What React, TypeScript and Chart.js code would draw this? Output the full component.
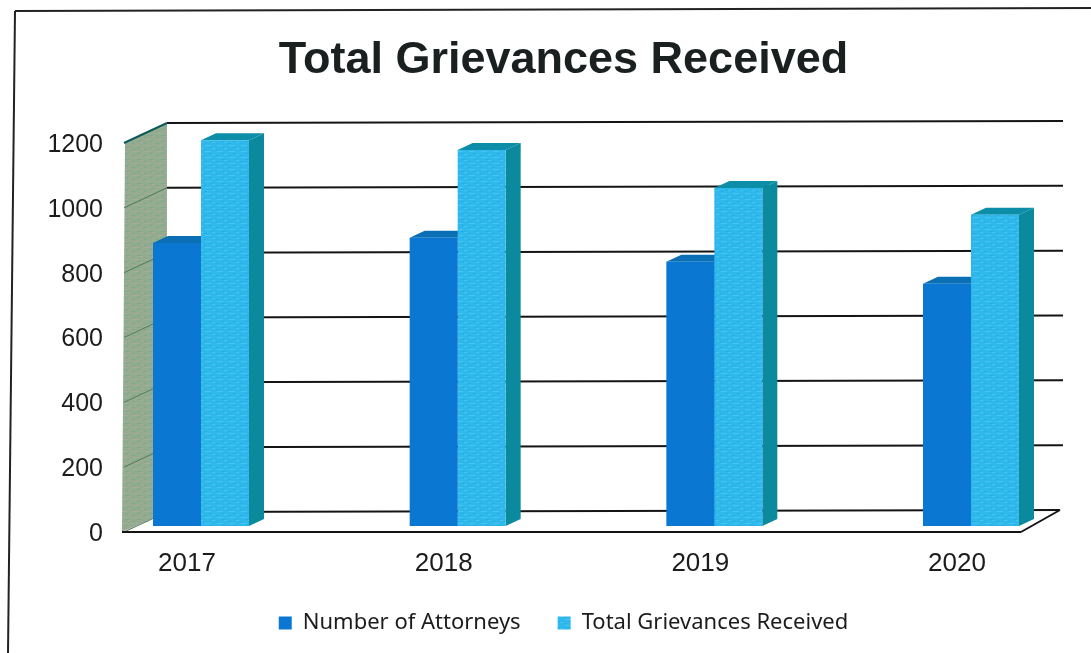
import React, { useEffect, useRef } from "react";
import { Chart, registerables } from "chart.js";

Chart.register(...registerables);

const years = ["2017", "2018", "2019", "2020"];
const attorneys = [873, 889, 815, 747];
const grievances = [1190, 1160, 1043, 960];

const INK = "#1c1c1c";
const BLUE = "#0a78d2";
const SIDE = "#0a8a9c";
const BLUE_TOP = "#0a6fb4";
const LIGHT_TOP = "#0c8ea8";
const DEPTH_X = 15;
const DEPTH_Y = 7;

function makePattern(base: string, streak: string, alt: string) {
  const c = document.createElement("canvas");
  c.width = 12;
  c.height = 6;
  const g = c.getContext("2d")!;
  g.fillStyle = base;
  g.fillRect(0, 0, 12, 6);
  g.fillStyle = streak;
  g.fillRect(1, 1, 6, 1);
  g.fillRect(8, 4, 3, 1);
  g.fillStyle = alt;
  g.fillRect(5, 3, 4, 1);
  g.fillRect(0, 5, 3, 1);
  return g.createPattern(c, "repeat")!;
}

function poly(ctx: CanvasRenderingContext2D, pts: number[][], fill: string | CanvasPattern) {
  ctx.beginPath();
  pts.forEach((p, i) => (i ? ctx.lineTo(p[0], p[1]) : ctx.moveTo(p[0], p[1])));
  ctx.closePath();
  ctx.fillStyle = fill;
  ctx.fill();
}

function line(ctx: CanvasRenderingContext2D, x0: number, y0: number, x1: number, y1: number, color: string, w: number) {
  ctx.beginPath();
  ctx.moveTo(x0, y0);
  ctx.lineTo(x1, y1);
  ctx.strokeStyle = color;
  ctx.lineWidth = w;
  ctx.stroke();
}

const scenePlugin = {
  id: "scene3d",
  beforeDatasetsDraw(chart: any) {
    const { ctx, scales } = chart;
    const y = scales.y;
    ctx.save();

    // page frame of the scanned figure
    line(ctx, 15, 11, 1091, 8, "#222", 2);
    line(ctx, 15, 11, 8, 653, "#222", 2);

    // back wall on the left
    const y0 = y.getPixelForValue(0);
    const yTop = y.getPixelForValue(1200);
    const wall = makePattern("#93ab8e", "#a8ab98", "#7fa98e");
    poly(ctx, [[125, yTop + 6], [167, yTop - 14], [167, y0 - 14], [122, y0 + 6]], wall);

    // gridlines on the back plane and their run across the side wall
    for (const t of y.ticks) {
      const p = y.getPixelForValue(t.value);
      const end = t.value === 0 ? 1060 : 1063;
      line(ctx, 167, p - 14, end, p - 16, "#141414", 2);
      line(ctx, 124, p + 6, 167, p - 14, t.value === 1200 ? "#0b5a5c" : "#4f7a5c", t.value === 1200 ? 2 : 1);
    }

    // floor
    line(ctx, 122, y0 + 6, 1021, y0 + 6, "#141414", 2);
    line(ctx, 1021, y0 + 6, 1060, y0 - 16, "#141414", 2);

    // bar depth, taken from the bar elements
    chart.data.datasets.forEach((_d: any, di: number) => {
      const top = di === 0 ? BLUE_TOP : LIGHT_TOP;
      chart.getDatasetMeta(di).data.forEach((b: any) => {
        const l = b.x - b.width / 2;
        const r = b.x + b.width / 2;
        poly(ctx, [[r, b.y], [r + DEPTH_X, b.y - DEPTH_Y], [r + DEPTH_X, b.base - DEPTH_Y], [r, b.base]], SIDE);
        poly(ctx, [[l, b.y], [l + DEPTH_X, b.y - DEPTH_Y], [r + DEPTH_X, b.y - DEPTH_Y], [r, b.y]], top);
      });
    });
    ctx.restore();
  },
};

export default function App() {
  const ref = useRef<HTMLCanvasElement>(null);

  useEffect(() => {
    const light = makePattern("#2fb8ec", "#48c4f0", "#27b0e6");
    const chart = new Chart(ref.current!, {
      type: "bar",
      data: {
        labels: years,
        datasets: [
          { label: "Number of Attorneys", data: attorneys, backgroundColor: BLUE, clip: false } as any,
          { label: "Total Grievances Received", data: grievances, backgroundColor: light, clip: false } as any,
        ],
      },
      plugins: [scenePlugin],
      options: {
        responsive: false,
        animation: false,
        layout: { padding: { left: 40, right: 4, top: 0, bottom: 9 } },
        datasets: { bar: { barPercentage: 1, categoryPercentage: 0.374 } },
        plugins: {
          tooltip: { enabled: false },
          title: {
            display: true,
            text: "Total Grievances Received",
            color: "#1a2020",
            font: { family: "'Liberation Sans'", size: 45, weight: "bold" },
            padding: { top: 34, bottom: 49 },
          },
          legend: {
            position: "bottom",
            labels: {
              boxWidth: 13,
              boxHeight: 13,
              padding: 37,
              color: INK,
              font: { family: "'Noto Sans'", size: 22 },
            },
          },
        },
        scales: {
          x: {
            offset: false,
            grid: { display: false, drawTicks: false },
            border: { display: false },
            ticks: {
              color: INK,
              font: { family: "'Liberation Sans'", size: 26 },
              padding: 22,
              labelOffset: -14,
              autoSkip: false,
              maxRotation: 0,
            },
            afterFit(s: any) {
              s.height = 49;
              s.paddingLeft = 0;
              s.paddingRight = 0;
            },
          },
          y: {
            min: 0,
            max: 1200,
            grid: { display: false, drawTicks: false },
            border: { display: false },
            ticks: {
              stepSize: 200,
              color: INK,
              font: { family: "'Liberation Sans'", size: 25 },
              padding: 98,
              labelOffset: 8,
              callback: (v: any) => String(v),
            },
            afterFit(s: any) {
              s.width = 161;
              s.paddingTop = 0;
              s.paddingBottom = 0;
            },
          },
          spare: {
            type: "linear",
            position: "right",
            grid: { display: false, drawTicks: false },
            border: { display: false },
            ticks: { display: false },
            afterFit(s: any) {
              s.width = 116;
              s.paddingTop = 0;
              s.paddingBottom = 0;
            },
          },
        },
      },
    } as any);
    return () => chart.destroy();
  }, []);

  return (
    <div style={{ position: "absolute", left: 0, top: 0, width: 1091, height: 653, overflow: "hidden", background: "#fff" }}>
      <canvas ref={ref} width={1091} height={653} style={{ display: "block" }} />
    </div>
  );
}
